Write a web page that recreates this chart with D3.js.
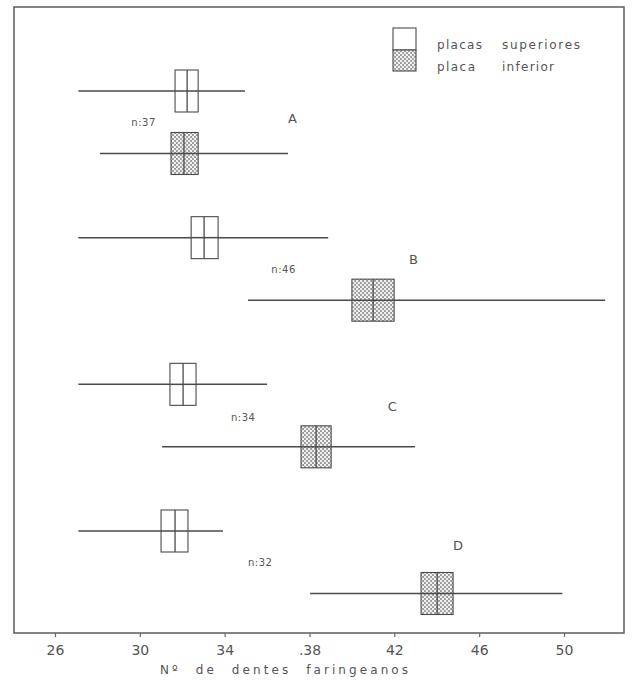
<!DOCTYPE html>
<html>
<head>
<meta charset="utf-8">
<script src="https://cdn.jsdelivr.net/npm/d3@7"></script>
<style>
  html, body { margin: 0; padding: 0; background: #fff; }
  svg { display: block; }
  text { font-family: "DejaVu Sans", sans-serif; fill: #555; }
</style>
</head>
<body>
<svg id="chart" width="633" height="681"></svg>
<script>
// ---------------- data ----------------
const groups   = ["A", "B", "C", "D"];
const nValues  = [37, 46, 34, 32];
const series   = ["placas superiores", "placa inferior"];

// placas superiores
const supMin = [27.1, 27.1, 27.1, 27.1];
const supQ1  = [31.66, 32.42, 31.42, 31.0];
const supMed = [32.23, 33.03, 32.04, 31.66];
const supQ3  = [32.75, 33.69, 32.65, 32.27];
const supMax = [34.96, 38.88, 36.0, 33.92];

// placa inferior
const infMin = [28.12, 35.1, 31.05, 38.03];
const infQ1  = [31.47, 40.0, 37.6, 43.26];
const infMed = [32.08, 41.0, 38.31, 44.02];
const infQ3  = [32.75, 41.99, 39.02, 44.77];
const infMax = [36.99, 51.94, 42.98, 49.92];

const tickValues = [26, 30, 34, 38, 42, 46, 50];
const tickLabels = ["26", "30", "34", ".38", "42", "46", "50"];
const xTitle = "Nº de dentes faringeanos";

// ---------------- layout ----------------
const svg = d3.select("#chart");
const frame = { left: 14, right: 624, top: 7, bottom: 633 };
const x = d3.scaleLinear().domain([26, 50]).range([55, 564]);
const yGroup = d3.scalePoint().domain(groups).range([91, 531]);
const ySub = d3.scalePoint().domain(["sup", "inf"]).range([0, 62.5]);
const boxH = 42;
const ink = "#4a4a4a";

// stipple pattern
const defs = svg.append("defs");
const pat = defs.append("pattern").attr("id", "stip")
  .attr("patternUnits", "userSpaceOnUse").attr("width", 4).attr("height", 4);
pat.append("rect").attr("width", 4).attr("height", 4).attr("fill", "#9a9a9a");
pat.append("circle").attr("cx", 1).attr("cy", 1).attr("r", 1.25).attr("fill", "#f2f2f2");
pat.append("circle").attr("cx", 3).attr("cy", 3).attr("r", 1.25).attr("fill", "#f2f2f2");

// rows
const rows = [];
groups.forEach((g, i) => {
  rows.push({ g, s: "sup", min: supMin[i], q1: supQ1[i], med: supMed[i], q3: supQ3[i], max: supMax[i] });
  rows.push({ g, s: "inf", min: infMin[i], q1: infQ1[i], med: infMed[i], q3: infQ3[i], max: infMax[i] });
});
const yRow = d => yGroup(d.g) + ySub(d.s);

const rowG = svg.append("g").selectAll("g").data(rows).join("g");
rowG.append("line")
  .attr("x1", d => x(d.min)).attr("x2", d => x(d.max))
  .attr("y1", yRow).attr("y2", yRow)
  .attr("stroke", ink).attr("stroke-width", 1.5);
rowG.append("rect")
  .attr("x", d => x(d.q1)).attr("width", d => x(d.q3) - x(d.q1))
  .attr("y", d => yRow(d) - boxH / 2).attr("height", boxH)
  .attr("fill", d => d.s === "inf" ? "url(#stip)" : "#fff")
  .attr("stroke", ink).attr("stroke-width", 1.1);
rowG.append("line")
  .attr("x1", d => x(d.q1)).attr("x2", d => x(d.q3))
  .attr("y1", yRow).attr("y2", yRow)
  .attr("stroke", ink).attr("stroke-width", 1.5);
rowG.append("line")
  .attr("x1", d => x(d.med)).attr("x2", d => x(d.med))
  .attr("y1", d => yRow(d) - boxH / 2).attr("y2", d => yRow(d) + boxH / 2)
  .attr("stroke", ink).attr("stroke-width", 1.3);

// annotations (n and group letters), positions in data units
const nLabelX = [29.6, 36.2, 34.3, 35.1];
const nLabelDy = [31, 32, 33, 31];
const letterX = [37.2, 42.9, 41.9, 45.0];
const letterDy = [27, 22, 22, 14];
groups.forEach((g, i) => {
  svg.append("text")
    .attr("x", x(nLabelX[i])).attr("y", yGroup(g) + nLabelDy[i])
    .attr("dy", "0.35em").attr("font-size", 10).attr("letter-spacing", 0.5)
    .text("n:" + nValues[i]);
  svg.append("text")
    .attr("x", x(letterX[i])).attr("y", yGroup(g) + letterDy[i])
    .attr("dy", "0.35em").attr("text-anchor", "middle").attr("font-size", 13)
    .text(g);
});

// frame
svg.append("rect")
  .attr("x", frame.left).attr("y", frame.top)
  .attr("width", frame.right - frame.left).attr("height", frame.bottom - frame.top)
  .attr("fill", "none").attr("stroke", "#666").attr("stroke-width", 1.6);

// x axis
const axis = d3.axisBottom(x).tickValues(tickValues).tickSize(4)
  .tickFormat((d, i) => tickLabels[i]);
const ax = svg.append("g").attr("transform", `translate(0,${frame.bottom})`).call(axis);
ax.select(".domain").remove();
ax.selectAll(".tick line").attr("stroke", "#666").attr("stroke-width", 1.2);
ax.selectAll(".tick text").attr("font-size", 14).attr("fill", "#666")
  .attr("font-family", "DejaVu Sans, sans-serif").attr("y", 12);

svg.append("text")
  .attr("x", 160).attr("y", 670).attr("dy", "0.35em")
  .attr("font-size", 12).attr("textLength", 248).attr("lengthAdjust", "spacing")
  .attr("word-spacing", 8)
  .text(xTitle);

// legend
const lg = svg.append("g");
lg.append("rect").attr("x", 393).attr("y", 28).attr("width", 23).attr("height", 22)
  .attr("fill", "#fff").attr("stroke", ink).attr("stroke-width", 1.1);
lg.append("rect").attr("x", 393).attr("y", 50).attr("width", 23).attr("height", 21)
  .attr("fill", "url(#stip)").attr("stroke", ink).attr("stroke-width", 1.1);
const legWords = [["placas", "superiores"], ["placa", "inferior"]];
const legW = [[45, 78], [38, 52]];
legWords.forEach((w, i) => {
  const yy = 45 + i * 22;
  lg.append("text").attr("x", 437).attr("y", yy).attr("dy", "0.35em")
    .attr("font-size", 12).attr("textLength", legW[i][0]).attr("lengthAdjust", "spacing").text(w[0]);
  lg.append("text").attr("x", 502).attr("y", yy).attr("dy", "0.35em")
    .attr("font-size", 12).attr("textLength", legW[i][1]).attr("lengthAdjust", "spacing").text(w[1]);
});
</script>
</body>
</html>
